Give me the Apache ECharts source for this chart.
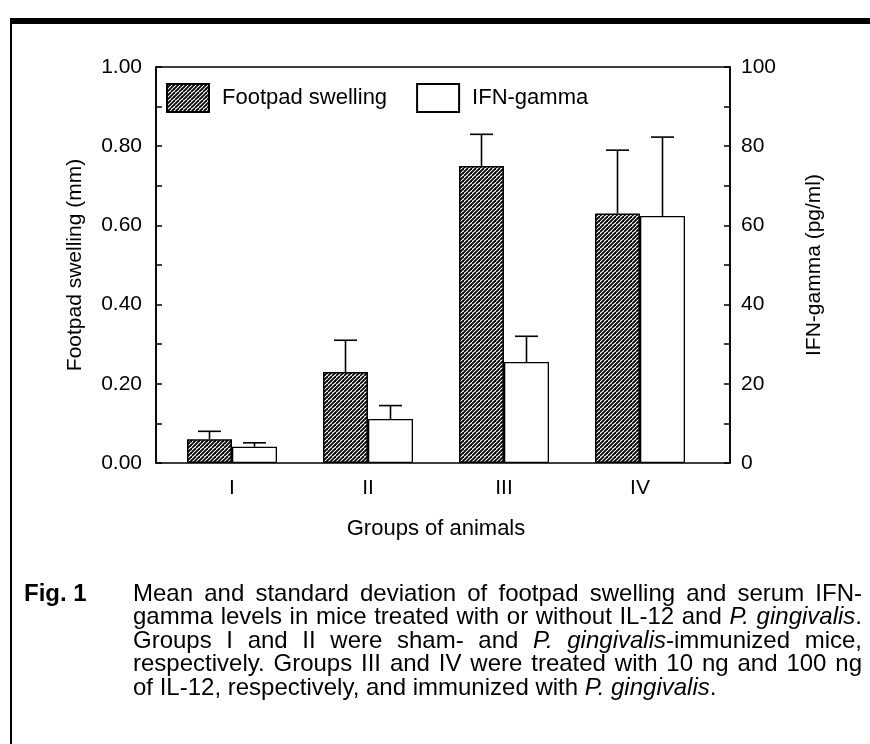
<!DOCTYPE html>
<html><head><meta charset="utf-8">
<script src="https://cdn.jsdelivr.net/npm/echarts/dist/echarts.min.js"></script>
<style>html,body{margin:0;padding:0;background:#fff}#c{width:870px;height:744px}</style>
</head><body><div id="c"></div>
<script>
// ---- data ----
const groups = ['I', 'II', 'III', 'IV'];
const footpad = [0.06, 0.23, 0.75, 0.63];      // mm
const footpadSD = [0.02, 0.08, 0.08, 0.16];
const ifn = [4.1, 11.1, 25.5, 62.4];           // pg/ml
const ifnSD = [1.0, 3.4, 6.5, 19.9];
const leftAxis = { min: 0, max: 1, interval: 0.2 };
const rightAxis = { min: 0, max: 100, interval: 20 };
const seriesNames = ['Footpad swelling', 'IFN-gamma'];
const axisTitles = ['Footpad swelling (mm)', 'IFN-gamma (pg/ml)', 'Groups of animals'];
const figLabel = 'Fig. 1';
const captionLines = [
  'Mean and standard deviation of footpad swelling and serum IFN-',
  'gamma levels in mice treated with or without IL-12 and _P. gingivalis_.',
  'Groups I and II were sham- and _P. gingivalis_-immunized mice,',
  'respectively.  Groups III and IV were treated with 10 ng and 100 ng',
  'of IL-12, respectively, and immunized with _P. gingivalis_.'
];

// ---- styling ----
const FONT = "'Liberation Sans', Arial, Helvetica, sans-serif";
const CAPFONT = "'Liberation Sans', Arial, Helvetica, sans-serif";
const CAPSIZE = 24;
const BARW = 45;

function hatch() {
  const s = 8, c = document.createElement('canvas');
  c.width = c.height = s;
  const g = c.getContext('2d');
  g.fillStyle = '#fff'; g.fillRect(0, 0, s, s);
  g.strokeStyle = '#000'; g.lineWidth = 1.8;
  for (let i = -s; i <= 2 * s; i += 4) {
    g.beginPath(); g.moveTo(i, s); g.lineTo(i + s, 0); g.stroke();
  }
  return c;
}
const hatchFill = { image: hatch(), repeat: 'repeat' };

function errRender(side) {
  return function (params, api) {
    const i = api.value(0), v = api.value(1), sd = api.value(2);
    const p0 = api.coord([i, v]), p1 = api.coord([i, v + sd]);
    const x = p0[0] + side * BARW / 2;
    return { type: 'group', children: [
      { type: 'line', shape: { x1: x, y1: p0[1], x2: x, y2: p1[1] }, style: { stroke: '#000', lineWidth: 1.6 } },
      { type: 'line', shape: { x1: x - 11.5, y1: p1[1], x2: x + 11.5, y2: p1[1] }, style: { stroke: '#000', lineWidth: 1.6 } }
    ] };
  };
}

// ---- caption (justified) ----
const mctx = document.createElement('canvas').getContext('2d');
function meas(t, it) { mctx.font = (it ? 'italic ' : '') + CAPSIZE + 'px ' + CAPFONT; return mctx.measureText(t).width; }
function buildCaption() {
  const els = [];
  const left = 133, right = 862, y0 = 594, dy = 23.5;
  captionLines.forEach((line, li) => {
    let italic = false;
    const words = line.split(' ').filter(s => s.length).map(wd => {
      let runs = [], cur = '', curIt = italic;
      for (const ch of wd) {
        if (ch === '_') { if (cur) runs.push([cur, curIt]); cur = ''; italic = !italic; curIt = italic; }
        else cur += ch;
      }
      if (cur) runs.push([cur, curIt]);
      const width = runs.reduce((a, r) => a + meas(r[0], r[1]), 0);
      const text = runs.map(r => r[1] ? '{i|' + r[0] + '}' : r[0]).join('');
      return { text, width };
    });
    const total = words.reduce((a, w) => a + w.width, 0);
    const justify = li < captionLines.length - 1;
    const gap = justify ? (right - left - total) / (words.length - 1) : meas(' ', false);
    let x = left;
    words.forEach(w => {
      els.push({ type: 'text', x: x, y: y0 + li * dy, style: {
        text: w.text, fontFamily: CAPFONT, fontSize: CAPSIZE, fill: '#000', verticalAlign: 'middle',
        rich: { i: { fontStyle: 'italic', fontFamily: CAPFONT, fontSize: CAPSIZE, fill: '#000' } } } });
      x += w.width + gap;
    });
  });
  els.push({ type: 'text', x: 24, y: y0, style: { text: figLabel, fontFamily: CAPFONT, fontSize: CAPSIZE, fontWeight: 'bold', fill: '#000', verticalAlign: 'middle' } });
  return els;
}

const chart = echarts.init(document.getElementById('c'), null, { renderer: 'canvas' });
const lbl = { color: '#000', fontFamily: FONT, fontSize: 21 };
const nameStyle = { color: '#000', fontFamily: FONT, fontSize: 21 };
const gridTop = 67, gridBottom = 744 - 463;

chart.setOption({
  animation: false,
  backgroundColor: '#fff',
  grid: [
    { left: 156, right: 140, top: gridTop, bottom: gridBottom, show: true, borderColor: '#000', borderWidth: 1.6, backgroundColor: 'transparent', outerBoundsMode: 'none', containLabel: false },
    { left: 164, right: 162, top: gridTop, bottom: gridBottom, outerBoundsMode: 'none', containLabel: false }
  ],
  xAxis: [
    { gridIndex: 0, type: 'value', show: false, min: 0, max: 1 },
    { gridIndex: 1, type: 'category', data: groups,
      axisLine: { show: false }, axisTick: { show: false },
      axisLabel: Object.assign({ margin: 15 }, lbl),
      name: axisTitles[2], nameLocation: 'middle', nameGap: 55,
      nameTextStyle: Object.assign({}, nameStyle, { fontSize: 22 }) }
  ],
  yAxis: [
    { gridIndex: 0, type: 'value', position: 'left', min: leftAxis.min, max: leftAxis.max, interval: leftAxis.interval,
      axisLine: { show: true, lineStyle: { color: '#000', width: 1.6 } },
      axisTick: { show: true, inside: true, length: 6, lineStyle: { color: '#000', width: 1.5 } },
      minorTick: { show: true, splitNumber: 2, length: 6, lineStyle: { color: '#000', width: 1.5 } },
      splitLine: { show: false },
      axisLabel: Object.assign({ margin: 14, padding: [4, 0, 0, 0], formatter: v => v.toFixed(2) }, lbl),
      name: axisTitles[0], nameLocation: 'middle', nameRotate: 90, nameGap: 70,
      nameTextStyle: nameStyle },
    { gridIndex: 0, type: 'value', position: 'right', min: rightAxis.min, max: rightAxis.max, interval: rightAxis.interval,
      axisLine: { show: true, lineStyle: { color: '#000', width: 1.6 } },
      axisTick: { show: true, inside: true, length: 6, lineStyle: { color: '#000', width: 1.5 } },
      minorTick: { show: true, splitNumber: 2, length: 6, lineStyle: { color: '#000', width: 1.5 } },
      splitLine: { show: false },
      axisLabel: Object.assign({ margin: 11, padding: [4, 0, 0, 0] }, lbl),
      name: axisTitles[1], nameLocation: 'middle', nameRotate: 90, nameGap: 74,
      nameTextStyle: nameStyle },
    { gridIndex: 1, type: 'value', show: false, min: leftAxis.min, max: leftAxis.max },
    { gridIndex: 1, type: 'value', show: false, min: rightAxis.min, max: rightAxis.max }
  ],
  legend: {
    data: seriesNames, left: 166, top: 83, orient: 'horizontal', padding: 0,
    itemWidth: 42, itemHeight: 28, itemGap: 29, icon: 'rect',
    textStyle: { color: '#000', fontFamily: FONT, fontSize: 22, padding: [10, 0, 0, 8] },
    selectedMode: false
  },
  series: [
    { name: seriesNames[0], type: 'bar', xAxisIndex: 1, yAxisIndex: 2, data: footpad,
      barWidth: BARW, barGap: '0%',
      itemStyle: { color: hatchFill, borderColor: '#000', borderWidth: 1.6 } },
    { name: seriesNames[1], type: 'bar', xAxisIndex: 1, yAxisIndex: 3, data: ifn,
      barWidth: BARW, barGap: '0%',
      itemStyle: { color: '#fff', borderColor: '#000', borderWidth: 1.3 } },
    { name: 'err-footpad', type: 'custom', xAxisIndex: 1, yAxisIndex: 2, z: 5,
      data: groups.map((g, i) => [i, footpad[i], footpadSD[i]]), encode: { x: 0, y: 1 },
      renderItem: errRender(-1) },
    { name: 'err-ifn', type: 'custom', xAxisIndex: 1, yAxisIndex: 3, z: 5,
      data: groups.map((g, i) => [i, ifn[i], ifnSD[i]]), encode: { x: 0, y: 1 },
      renderItem: errRender(1) }
  ],
  graphic: [
    { type: 'rect', shape: { x: 10, y: 18, width: 860, height: 6 }, style: { fill: '#000' } },
    { type: 'rect', shape: { x: 10, y: 18, width: 2, height: 726 }, style: { fill: '#000' } }
  ].concat(buildCaption())
});
</script>
</body></html>
